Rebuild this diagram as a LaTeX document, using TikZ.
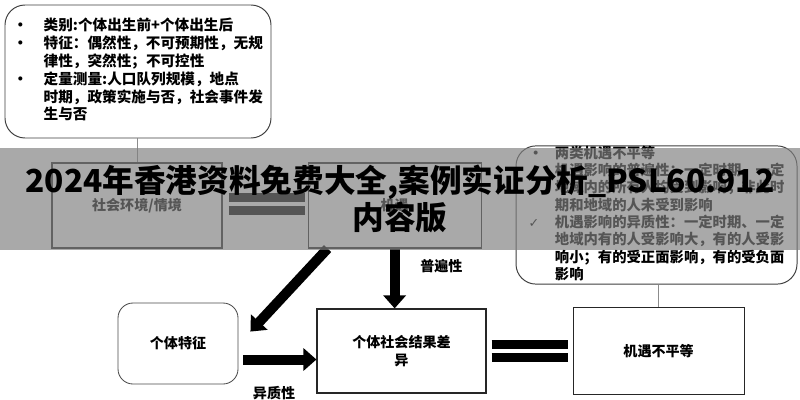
\documentclass[tikz,border=0pt]{standalone}
\usepackage{fontspec}
\usetikzlibrary{positioning, arrows.meta, calc}
\newfontfamily\cjk{Noto Sans CJK SC}
\newfontfamily\symfont{DejaVu Sans}
\newlength{\dpx}
\setlength{\dpx}{0.025cm}

\begin{document}
\begin{tikzpicture}[
        x=0.025cm, y=-0.025cm,
        note/.style={rectangle, rounded corners=0.5cm, draw=black!75, line width=0.7pt, inner sep=0pt},
        box/.style={rectangle, draw=black!85, line width=0.8pt, font=\cjk\bfseries\fontsize{10pt}{13pt}\selectfont, align=center},
        roundbox/.style={box, rounded corners=0.375cm, draw=black!70, line width=0.6pt},
        link/.style={draw=black!45, line width=0.5pt},
        bigarrow/.style={-{Triangle[length=0.325cm, width=0.55cm]}, line width=0.25cm},
        eqbar/.style={line width=0.225cm},
        tag/.style={font=\cjk\bfseries\fontsize{10pt}{12pt}\selectfont},
        banner/.style={rectangle, fill=black!50, fill opacity=0.67, text opacity=1, inner sep=0pt, font=\cjk\bfseries\fontsize{22.5pt}{26.5pt}\selectfont, align=center}
    ]
        \fill[white] (0,0) rectangle (800,400);
        \useasboundingbox (0,0) rectangle (800,400);

        % Notes
        \node[note, minimum width=266\dpx, minimum height=133\dpx,
              font=\cjk\bfseries\fontsize{10.4pt}{12.4pt}\selectfont] (notesL) at (138,71.5) {%
            \begin{tabular}{@{}l@{\hspace{16\dpx}}l@{}}
            • & 类别:个体出生前+个体出生后\\
            • & 特征：偶然性，不可预期性，无规\\
              & 律性，突然性；不可控性\\
            • & 定量测量:人口队列规模，地点\\
              & 时期，政策实施与否，社会事件发\\
              & 生与否
            \end{tabular}};
        \node[note, minimum width=281\dpx, minimum height=136\dpx,
              font=\cjk\bfseries\fontsize{10.2pt}{11.6pt}\selectfont] (notesR) at (656.5,215) {%
            \begin{tabular}{@{}l@{\hspace{12\dpx}}l@{}}
            • & 两类机遇不平等\\
            {\symfont\mdseries\small ✓} & 机遇影响的普遍性：一定时期、一定\\
              & 地域内的所有人均受到影响，非此时\\
              & 期和地域的人未受到影响\\
            {\symfont\mdseries\small ✓} & 机遇影响的异质性：一定时期、一定\\
              & 地域内有的人受影响大，有的人受影\\
              & 响小；有的受正面影响，有的受负面\\
              & 影响
            \end{tabular}};

        % Boxes
        \node[box, minimum width=170\dpx, minimum height=85\dpx] (ctx) at (137,205.5) {社会环境/情境};
        \node[box, minimum width=173\dpx, minimum height=85\dpx, right=85\dpx of ctx] (chance) {机遇};
        \node[roundbox, minimum width=120\dpx, minimum height=81\dpx] (indiv) at (178,343.5) {个体特征};
        \node[box, minimum width=169\dpx, minimum height=84\dpx] (outcome) at (401.5,351) {个体社会结果差\\异};
        \node[box, minimum width=171\dpx, minimum height=87\dpx, right=86\dpx of outcome] (unequal) {机遇不平等};

        \draw[link] (ctx.north |- notesL.south) -- (ctx.north);
        \draw[link] (unequal.north |- notesR.south) -- (unequal.north);

        % Equal signs
        \draw[eqbar] ([xshift=6\dpx, yshift=8\dpx]ctx.east) -- ([xshift=-3\dpx, yshift=8\dpx]chance.west);
        \draw[eqbar] ([xshift=6\dpx, yshift=-5\dpx]ctx.east) -- ([xshift=-3\dpx, yshift=-5\dpx]chance.west);
        \draw[eqbar] ([xshift=5\dpx, yshift=6.5\dpx]outcome.east) -- ([xshift=-5\dpx, yshift=6.5\dpx]unequal.west);
        \draw[eqbar] ([xshift=5\dpx, yshift=-6.5\dpx]outcome.east) -- ([xshift=-5\dpx, yshift=-6.5\dpx]unequal.west);

        % Arrows
        \coordinate (dstart) at ($(chance.south west)+(20,0)$);
        \coordinate (dtip) at ($(indiv.north east)+(12,29)$);
        \coordinate (hstart) at ($(indiv.east)+(5,16)$);
        \draw[bigarrow] (dstart) -- (dtip);
        \draw[bigarrow] (chance.south) -- (chance.south |- outcome.north)
            node[tag, pos=0.3, right=16\dpx] (univ) {普遍性};
        \draw[bigarrow] (hstart) -- (outcome.west |- hstart)
            node[tag, pos=0.42, below=17\dpx] (hetero) {异质性};

        % Banner
        \node[banner, minimum width=800\dpx, minimum height=102\dpx] (ad) at (400,199)
            {2024年香港资料免费大全,案例实证分析\_PSL60.912\\内容版};
    \end{tikzpicture}
\end{document}
